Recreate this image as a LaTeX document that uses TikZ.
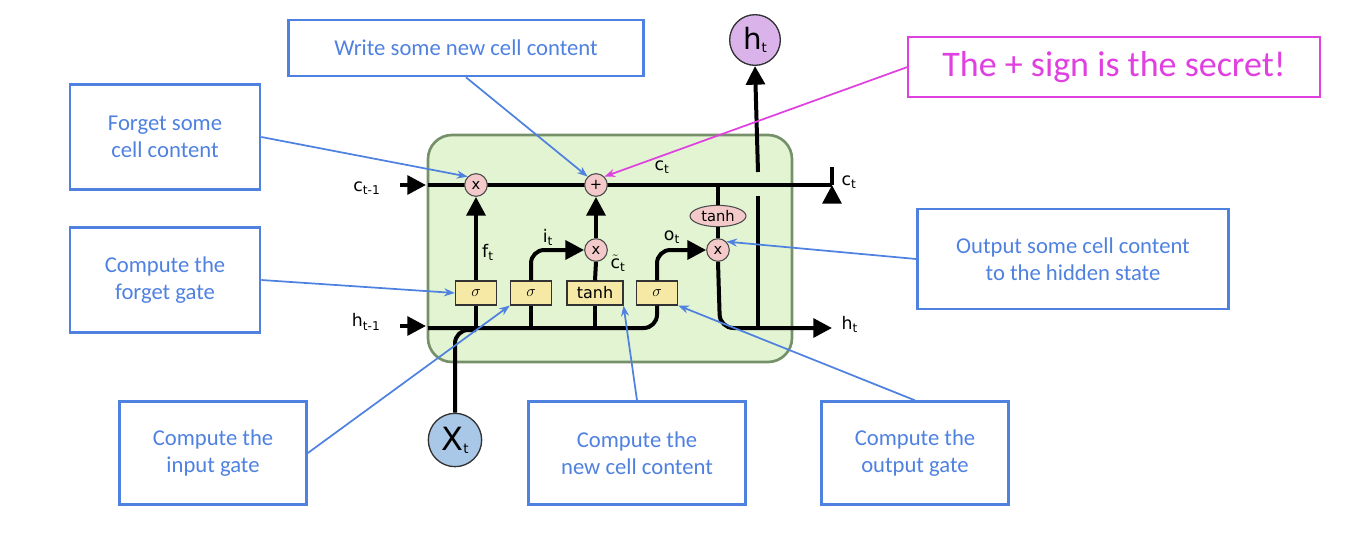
\documentclass[tikz,border=0pt]{standalone}
\usepackage{fontspec}
\setmainfont{Carlito}
\newfontfamily\dv{DejaVu Sans}
\usetikzlibrary{arrows.meta,shapes.geometric}
\definecolor{lblue}{HTML}{4F81E0}
\definecolor{mag}{HTML}{E040E0}
\definecolor{cellg}{HTML}{E2F4D2}
\definecolor{cellb}{HTML}{76906A}
\definecolor{gatey}{HTML}{F6E8A5}
\definecolor{opp}{HTML}{F4C9C9}
\definecolor{xblue}{HTML}{A9C8E8}
\definecolor{hpurp}{HTML}{D9B3EA}
\begin{document}
\begin{tikzpicture}[x=0.75pt,y=-0.75pt,
  lbl/.style={draw=lblue,line width=2pt,text=lblue,font=\fontsize{17}{20}\selectfont,align=center,inner sep=0pt,minimum height=#1},
  lbl/.default=60,
  ptr/.style={lblue,line width=1.3pt,-{Stealth[length=8pt,width=6pt]}},
  flow/.style={line width=3pt,rounded corners=10pt},
  arr/.style={flow,-{Triangle[length=14pt,width=14pt]}},
  op/.style={circle,draw=black!70,fill=opp,line width=0.8pt,minimum size=17pt,inner sep=0pt,font=\dv\fontsize{11}{11}\selectfont},
  gate/.style={draw=black!80,fill=gatey,line width=0.8pt,minimum height=18pt,inner sep=0pt,font=\dv\fontsize{12}{12}\selectfont},
  vlab/.style={font=\dv\fontsize{13}{13}\selectfont,inner sep=1pt}]
\useasboundingbox (0,0) rectangle (1364,536);
% cell
\draw[fill=cellg,draw=cellb,line width=2pt,rounded corners=18pt] (428,135) rectangle (792,362);
% coordinates
\coordinate (cin0) at (400,185); \coordinate (cin1) at (426,185);
\coordinate (cst) at (428,185); \coordinate (cend) at (832,185);
\coordinate (hin0) at (400,326); \coordinate (hin1) at (426,326);
\coordinate (hst) at (428,328); \coordinate (hend) at (832,328);
\coordinate (hv1) at (758,172); \coordinate (hv2) at (758,196); \coordinate (hv3) at (758,328);
\draw[line width=3pt] (cst) -- (cend);
% nodes
\node[op] (fx) at (476,185) {x};
\node[op] (plus) at (596,185) {+};
\node[op] (ix) at (596,250) {x};
\node[op] (ox) at (718,250) {x};
\node[ellipse,draw=black!70,fill=opp,line width=0.8pt,minimum width=42pt,minimum height=16pt,inner sep=0pt,font=\dv\fontsize{11}{11}\selectfont] (th) at (718,216) {tanh};
\node[gate,minimum width=31pt] (g1) at (476,293) {$\sigma$};
\node[gate,minimum width=31pt] (g2) at (531,293) {$\sigma$};
\node[gate,minimum width=42pt] (g3) at (595,293) {tanh};
\node[gate,minimum width=31pt] (g4) at (657,293) {$\sigma$};
\node[circle,draw=black!80,fill=xblue,line width=1pt,minimum size=40pt,inner sep=0pt,font=\dv\fontsize{24}{24}\selectfont] (xt) at (455,440) {X\raisebox{-2pt}{\fontsize{10}{10}\selectfont t}};
\node[circle,draw=black!80,fill=hpurp,line width=1pt,minimum size=38pt,inner sep=0pt,font=\dv\fontsize{22}{22}\selectfont] (ht) at (755,40) {h\raisebox{-2pt}{\fontsize{10}{10}\selectfont t}};
% labels
\node[vlab,anchor=east] at (382,188) {c\textsubscript{t-1}};
\node[vlab,anchor=east] at (382,322) {h\textsubscript{t-1}};
\node[vlab,anchor=west] at (840,182) {c\textsubscript{t}};
\node[vlab,anchor=west] at (840,324) {h\textsubscript{t}};
\node[vlab] at (662,167) {c\textsubscript{t}};
\node[vlab] at (488,252) {f\textsubscript{t}};
\node[vlab] at (548,237) {i\textsubscript{t}};
\node[vlab] at (672,237) {o\textsubscript{t}};
\node[vlab] at (618,263) {$\tilde{\mbox{c}}$\textsubscript{t}};
% flows
\draw[arr] (cin0) -- (cin1);
\draw[arr] (hin0) -- (hin1);
\draw[arr] (832,185) -- (cend);
\draw[flow] (hst) -- (657,328) -- (g4.south);
\draw[flow] (g1.south) -- (476,328);
\draw[flow] (g2.south) -- (531,328);
\draw[flow] (g3.south) -- (595,328);
\draw[flow] (xt.north) -- (455,330) -- (476,330);
\draw[arr] (g1.north) -- (fx.south);
\draw[arr] (g2.north) -- (531,250) -- (ix.west);
\draw[arr] (g4.north) -- (657,250) -- (ox.west);
\draw[flow] (g3.north) -- (ix.south);
\draw[arr] (ix.north) -- (plus.south);
\draw[flow] (718,185) -- (th.north);
\draw[flow] (th.south) -- (ox.north);
\draw[arr] (ox.south) -- (720,328) -- (hend);
\draw[flow] (hv2) -- (hv3);
\draw[arr] (hv1) -- (ht.south);
% callouts
\node[lbl=42,minimum width=355*0.75pt] (w) at (466,48) {Write some new cell content};
\node[lbl=79,minimum width=190*0.75pt] (f) at (165,137) {Forget some\\cell content};
\node[lbl=79,minimum width=190*0.75pt] (fg) at (165,280) {Compute the\\forget gate};
\node[lbl=77,minimum width=187*0.75pt] (ig) at (213,453) {Compute the\\input gate};
\node[lbl=77,minimum width=217*0.75pt] (nc) at (637,453) {Compute the\\new cell content};
\node[lbl=77,minimum width=187*0.75pt] (og) at (915,453) {Compute the\\output gate};
\node[lbl=75,minimum width=311*0.75pt] (oc) at (1073,259) {Output some cell content\\to the hidden state};
\node[draw=mag,line width=0.8pt,text=mag,minimum width=412*0.75pt,minimum height=45pt,inner sep=0pt,font=\fontsize{27}{30}\selectfont] (sec) at (1114,67) {The + sign is the secret!};
\draw[ptr] (w.south) -- (plus.north west);
\draw[ptr] (f.east) -- (fx.north west);
\draw[ptr] (fg.east) -- (g1.west);
\draw[ptr] (ig.east) -- (g2.south west);
\draw[ptr] (nc.north) -- (g3.south east);
\draw[ptr] (og.north) -- (g4.south east);
\draw[ptr] (oc.west) -- (ox.north east);
\draw[mag,line width=1.3pt,-{Stealth[length=8pt,width=6pt]}] (sec.west) -- (plus.north east);
\end{tikzpicture}
\end{document}
